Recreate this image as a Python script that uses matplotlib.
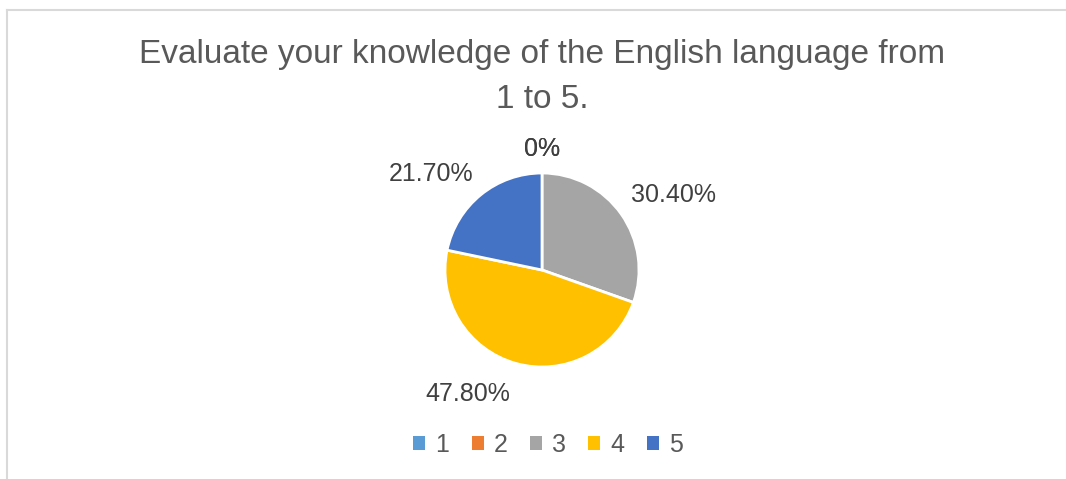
import matplotlib
matplotlib.use("Agg")
import matplotlib.pyplot as plt
import numpy as np
from matplotlib.lines import Line2D
from matplotlib.patches import Patch

categories = ["1", "2", "3", "4", "5"]
shares = [0.0, 0.0, 30.4, 47.8, 21.7]
value_labels = ["0%", "0%", "30.40%", "47.80%", "21.70%"]
colors = ["#5B9BD5", "#ED7D31", "#A5A5A5", "#FFC000", "#4472C4"]

W, H = 1066, 479
plt.rcParams["font.family"] = ["Liberation Sans", "DejaVu Sans"]

fig = plt.figure(figsize=(W / 100, H / 100), dpi=100)

# chart border (top and left edges visible)
border = "#D9D9D9"
fig.add_artist(Line2D([7 / W, 1065 / W], [1 - 10 / H, 1 - 10 / H], color=border, lw=1.5))
fig.add_artist(Line2D([7 / W, 7 / W], [0, 1 - 10 / H], color=border, lw=1.5))

fig.text(542 / W, 1 - 55 / H, "Evaluate your knowledge of the English language from",
         ha="center", va="center", fontsize=24, color="#595959")
fig.text(542 / W, 1 - 100 / H, "1 to 5.", ha="center", va="center", fontsize=24, color="#595959")

# pie: centre at (542, 270) px, radius 97 px
r_px = 97
k = 2.0
side = 2 * k * r_px
ax = fig.add_axes([(542 - side / 2) / W, (H - 270 - side / 2) / H, side / W, side / H])
wedges, _ = ax.pie(shares, colors=colors, startangle=90, counterclock=False,
                   wedgeprops=dict(edgecolor="white", linewidth=2))
ax.set_xlim(-k, k)
ax.set_ylim(-k, k)
ax.axis("off")

# outside-end style labels
for w, lab in zip(wedges, value_labels):
    mid = np.deg2rad((w.theta1 + w.theta2) / 2)
    c, s = np.cos(mid), np.sin(mid)
    ha = "left" if c > 0.1 else ("right" if c < -0.1 else "center")
    va = "bottom" if s > 0.1 else ("top" if s < -0.1 else "center")
    d = 1.12 if s >= 0 else 1.2
    ax.text(d * c, d * s, lab, ha=ha, va=va, fontsize=18, color="#404040")

handles = [Patch(facecolor=c, edgecolor="none") for c in colors]
fig.legend(handles, categories, loc="center", bbox_to_anchor=(548 / W, 1 - 445 / H), ncol=5,
           frameon=False, fontsize=18, labelcolor="#595959", handlelength=0.48, handleheight=0.48,
           handletextpad=0.4, columnspacing=0.9)

fig.savefig("out.png", dpi=100)
